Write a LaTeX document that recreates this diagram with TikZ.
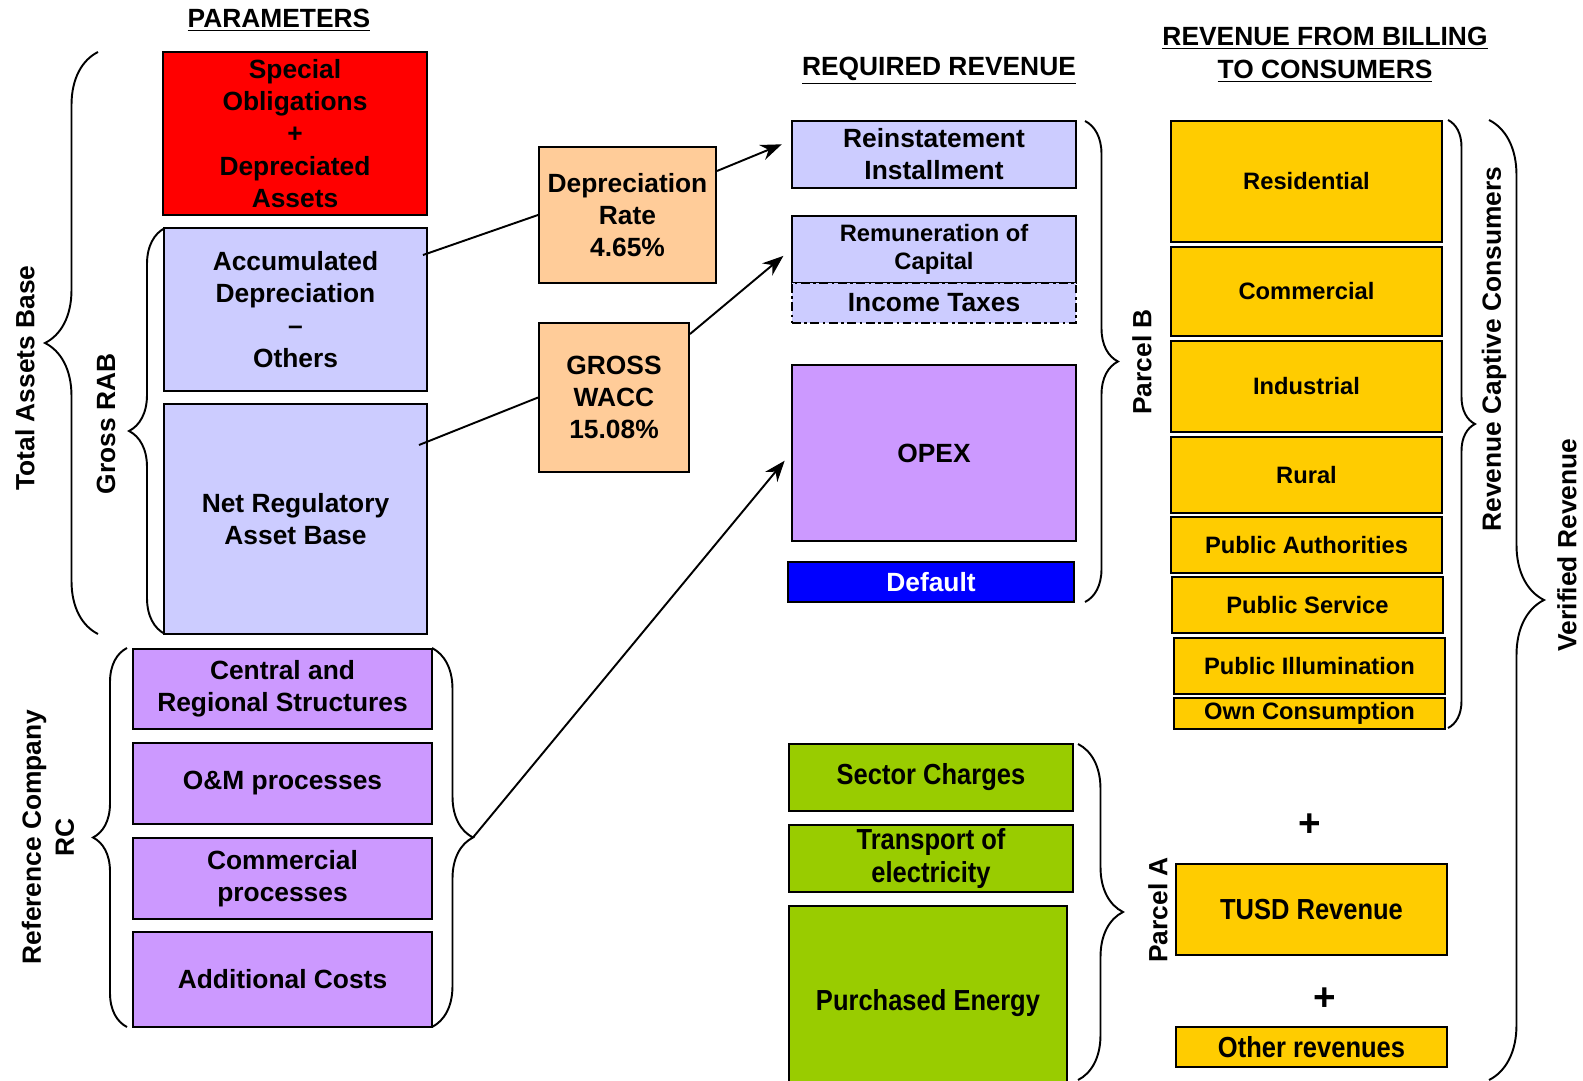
\documentclass[tikz,border=0pt]{standalone}
\usepackage{fontspec}
\setmainfont{Liberation Sans}
\newfontfamily\narrowfont[FakeStretch=0.88]{Liberation Sans}
\usetikzlibrary{arrows.meta,decorations.pathreplacing}

\begin{document}
\begin{tikzpicture}[x=0.02cm, y=-0.02cm,
    box/.style={draw=black, line width=1.1pt, inner sep=0pt, align=center,
        font=\bfseries\fontsize{15}{18.3}\selectfont},
    smallbox/.style={box, font=\bfseries\fontsize{13.5}{16}\selectfont},
    narrowbox/.style={box, font=\narrowfont\bfseries\fontsize{16.5}{18.3}\selectfont},
    wh/.style 2 args={minimum width=#1*\px, minimum height=#2*\px},
    header/.style={font=\bfseries\fontsize{15}{18.3}\selectfont, align=center, inner sep=0pt},
    sidelabel/.style={rotate=90, font=\bfseries\fontsize{15}{18.3}\selectfont, align=center, inner sep=0pt},
    plainlabel/.style={sidelabel, font=\bfseries\fontsize{15}{18.7}\selectfont},
    curly/.style={decorate, decoration={brace, amplitude=#1*\px}, line width=1.1pt},
    link/.style={line width=1.1pt},
    arrow/.style={link, -{Stealth[length=12pt, width=9pt]}, shorten >=0.2cm},
]
    \def\px{0.02cm}
    \definecolor{specialRed}{HTML}{FF0000}
    \definecolor{rabBlue}{HTML}{CCCCFF}
    \definecolor{rateOrange}{HTML}{FFCC99}
    \definecolor{costPurple}{HTML}{CC99FF}
    \definecolor{defaultBlue}{HTML}{0000FF}
    \definecolor{billYellow}{HTML}{FFCC00}
    \definecolor{parcelGreen}{HTML}{99CC00}

    \useasboundingbox (0,0) rectangle (1583,1081);
    \clip (0,0) rectangle (1583,1081);

    % Headers
    \node[header] (hparam) at (279,20) {\underline{PARAMETERS}};
    \node[header] (hreq) at (939,71) {\underline{REQUIRED REVENUE}};
    \node[header] (hbill1) at (1325,38) {\underline{REVENUE FROM BILLING}};
    \node[header] (hbill2) at (1325,71) {\underline{TO CONSUMERS}};

    % Parameters column
    \node[box, fill=specialRed, wh={264}{163}] (special) at (295,133.5) {Special\\Obligations\\+\\Depreciated\\Assets};
    \node[box, fill=rabBlue, wh={263}{163}] (accum) at (295.5,309.5) {Accumulated\\Depreciation\\–\\Others};
    \node[box, fill=rabBlue, wh={263}{230}] (netrab) at (295.5,519) {Net Regulatory\\Asset Base};

    % Reference company
    \node[box, fill=costPurple, wh={299}{80}] (central) at (282.5,689) {Central and\\Regional Structures};
    \node[box, fill=costPurple, wh={299}{81}] (om) at (282.5,783.5) {O\&M processes};
    \node[box, fill=costPurple, wh={299}{81}] (comproc) at (282.5,878.5) {Commercial\\processes};
    \node[box, fill=costPurple, wh={299}{95}] (addcost) at (282.5,979.5) {Additional Costs};

    % Rates
    \node[box, fill=rateOrange, wh={177}{136}] (deprate) at (627.5,215) {Depreciation\\Rate\\ 4.65\%};
    \node[box, fill=rateOrange, wh={150}{149}] (wacc) at (614,397.5) {GROSS\\WACC\\ 15.08\%};

    % Required revenue
    \node[box, fill=rabBlue, wh={284}{67}] (reinst) at (934,154.5) {Reinstatement\\Installment};
    \node[smallbox, fill=rabBlue, wh={284}{67}] (remun) at (934,249.5) {Remuneration of\\Capital};
    \node[box, fill=rabBlue, wh={284}{40}, line width=1.4pt, dash pattern=on 5pt off 2pt on 1.5pt off 2pt] (taxes) at (934,303) {Income Taxes};
    \node[box, fill=costPurple, wh={284}{176}] (opex) at (934,453) {OPEX};
    \node[box, fill=defaultBlue, text=white, wh={286}{40}] (default) at (931,582) {Default};
    \node[narrowbox, fill=parcelGreen, wh={284}{67}] (sector) at (931,777.5) {Sector Charges};
    \node[narrowbox, fill=parcelGreen, wh={284}{67}] (transport) at (931,858.5) {Transport of\\electricity};
    \node[narrowbox, fill=parcelGreen, wh={278}{194}] (purchased) at (928,1003) {Purchased Energy};

    % Billing
    \node[smallbox, fill=billYellow, wh={271}{121}] (resid) at (1306.5,181.5) {Residential};
    \node[smallbox, fill=billYellow, wh={271}{89}] (commerc) at (1306.5,291.5) {Commercial};
    \node[smallbox, fill=billYellow, wh={271}{91}] (indust) at (1306.5,386.5) {Industrial};
    \node[smallbox, fill=billYellow, wh={271}{76}] (rural) at (1306.5,475) {Rural};
    \node[smallbox, fill=billYellow, wh={271}{56}] (pubauth) at (1306.5,545) {Public Authorities};
    \node[smallbox, fill=billYellow, wh={271}{56}] (pubserv) at (1307.5,605) {Public Service};
    \node[smallbox, fill=billYellow, wh={271}{56}] (pubillum) at (1309.5,666) {Public Illumination};
    \node[smallbox, fill=billYellow, wh={271}{31}] (owncons) at (1309.5,713.5) {Own Consumption};
    \node[font=\bfseries\fontsize{22}{22}\selectfont] (plusa) at (1310,825) {+};
    \node[narrowbox, fill=billYellow, wh={271}{91}] (tusd) at (1311.5,909.5) {TUSD Revenue};
    \node[font=\bfseries\fontsize{22}{22}\selectfont] (plusb) at (1325,999) {+};
    \node[narrowbox, fill=billYellow, wh={271}{40}] (other) at (1311.5,1047) {Other revenues};

    % Braces
    \draw[curly=53] (98,634) -- (98,52);
    \draw[curly=36] (165,634) -- (165,228);
    \draw[curly=34] (127,1027) -- (127,648);
    \draw[curly=41] (432,648) -- (432,1027);
    \coordinate (rctip) at (473,837.5);
    \draw[curly=33] (1085,121) -- (1085,602);
    \draw[curly=45] (1078,744) -- (1078,1080);
    \draw[curly=27] (1448,120) -- (1448,728);
    \draw[curly=55] (1489,120) -- (1489,1080);

    % Side labels
    \node[sidelabel] (ltotal) at (25,378) {Total Assets Base};
    \node[sidelabel] (lgross) at (106,424) {Gross RAB};
    \node[plainlabel] (lrc) at (48,837) {Reference Company\\RC};
    \node[sidelabel] (lparcelb) at (1142,362) {Parcel B};
    \node[sidelabel] (lparcela) at (1158,910) {Parcel A};
    \node[plainlabel] (lcaptive) at (1494,349) {Revenue Captive Consumers};
    \node[sidelabel] (lverified) at (1567,545) {Verified Revenue};

    % Connectors
    \draw[link] ([xshift=-0.1cm, yshift=1.09cm]accum.east) -- (deprate.west);
    \draw[link] ([xshift=-0.18cm, yshift=1.48cm]netrab.east) -- (wacc.west);
    \draw[arrow] ([yshift=0.88cm]deprate.east) -- ([yshift=0.28cm]reinst.west);
    \draw[arrow] ([yshift=-0.24cm]wacc.north east) -- (remun.west);
    \draw[arrow] (rctip) -- (opex.west);

\end{tikzpicture}
\end{document}
